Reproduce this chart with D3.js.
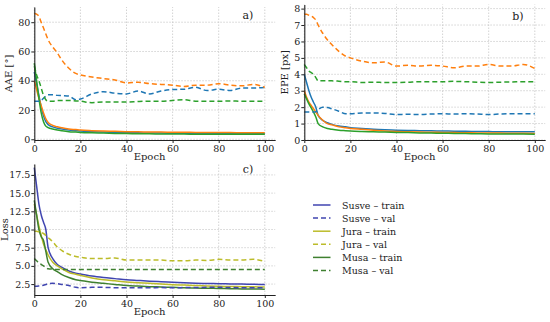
<!DOCTYPE html>
<html>
<head>
<meta charset="utf-8">
<script src="https://cdn.jsdelivr.net/npm/d3@7"></script>
<style>
  body { margin: 0; background: #fff; }
  svg text { font-family: "DejaVu Serif", "Liberation Serif", serif; fill: #222; }
  .grid line { stroke: #c8c8c8; stroke-dasharray: 1.5,1.5; stroke-width: 0.8; }
  .axis path, .axis line { stroke: #222; }
</style>
</head>
<body>
<svg id="chart" width="550" height="322"></svg>
<script>
const epochs = [0,1,2,3,4,5,6,8,10,12,15,18,20,25,30,35,40,45,50,55,60,65,70,75,80,85,90,95,100];

// a) AAE [°]
const susveTrainA = [46,38,30,22,16,12,10,8.5,7.5,7,6.3,5.9,5.6,5.2,4.9,4.7,4.5,4.4,4.3,4.2,4.1,4.05,4.0,3.95,3.9,3.85,3.8,3.8,3.8];
const juraTrainA  = [40,34,28,23,18,14,11.5,9.5,8.5,7.8,7,6.6,6.3,5.9,5.6,5.4,5.2,5.1,5.0,4.9,4.8,4.75,4.7,4.65,4.6,4.55,4.5,4.5,4.5];
const musaTrainA  = [52,40,28,18,12,9,8,7,6.3,5.8,5.2,4.9,4.7,4.4,4.2,4.0,3.9,3.8,3.7,3.65,3.6,3.55,3.5,3.5,3.5,3.45,3.4,3.4,3.4];
const susveValA   = [26,26,26,26.5,28,29.5,30.5,30.5,30,29.8,29.5,27,27.5,31,32.5,31.5,31,33,31,33,34,34.2,35.5,33.3,34.2,33.3,35,35,35.5];
const juraValA    = [86,85.5,84,80,76,72,68,63,59,54,48.5,45,44,42.5,41.5,40.5,38.5,39,38,37.5,37,36,37,37,38,37,36.5,37.5,35.5];
const musaValA    = [50,44,40,35,30,27,26,26,26.5,26.5,26.5,26.2,26,25,25.5,25.5,25.5,25.8,26,26,26.5,27,26,26,26,26.2,26,26,26];

// b) EPE [px]
const susveTrainB = [4.0,3.5,3.0,2.6,2.3,2.0,1.5,1.2,1.05,0.95,0.85,0.8,0.75,0.7,0.65,0.62,0.6,0.58,0.57,0.56,0.55,0.54,0.53,0.52,0.51,0.5,0.5,0.5,0.5];
const juraTrainB  = [3.0,2.6,2.3,2.1,1.9,1.7,1.5,1.2,1.0,0.92,0.8,0.74,0.7,0.65,0.6,0.55,0.52,0.5,0.48,0.47,0.46,0.45,0.44,0.43,0.42,0.42,0.41,0.41,0.4];
const musaTrainB  = [2.8,2.5,2.2,1.95,1.7,1.4,1.0,0.8,0.7,0.65,0.6,0.57,0.55,0.52,0.5,0.48,0.46,0.45,0.43,0.42,0.41,0.4,0.39,0.38,0.37,0.37,0.36,0.36,0.35];
const susveValB   = [1.7,1.7,1.7,1.7,1.7,1.72,1.85,2.0,1.98,1.9,1.75,1.6,1.6,1.65,1.65,1.62,1.55,1.57,1.55,1.58,1.6,1.58,1.6,1.58,1.55,1.58,1.6,1.6,1.6];
const juraValB    = [7.65,7.65,7.6,7.55,7.45,7.3,7.0,6.5,6.1,5.8,5.4,5.1,5.0,4.8,4.7,4.75,4.5,4.55,4.5,4.55,4.5,4.4,4.5,4.5,4.6,4.5,4.5,4.6,4.35];
const musaValB    = [4.6,4.4,4.2,4.1,4.0,3.8,3.6,3.6,3.6,3.6,3.58,3.55,3.55,3.5,3.52,3.5,3.5,3.52,3.55,3.55,3.55,3.57,3.55,3.52,3.5,3.52,3.53,3.55,3.55];

// c) Loss
const susveTrainC = [18.5,16,13.5,12,11,10,7.5,6,5.2,4.8,4.3,4.0,3.9,3.6,3.4,3.25,3.1,3.0,2.9,2.82,2.75,2.68,2.62,2.58,2.55,2.52,2.5,2.47,2.45];
const juraTrainC  = [13.5,12,10.5,9.2,8,7.2,6.5,5.5,5.0,4.6,4.1,3.85,3.7,3.35,3.1,2.95,2.8,2.7,2.6,2.5,2.42,2.36,2.3,2.25,2.2,2.17,2.14,2.12,2.1];
const musaTrainC  = [14,12,10,9,8.5,7,5.5,4.6,4.2,3.8,3.4,3.1,3.0,2.75,2.6,2.45,2.3,2.22,2.15,2.1,2.05,2.0,1.96,1.93,1.9,1.87,1.84,1.82,1.8];
const susveValC   = [2.2,2.2,2.25,2.3,2.35,2.45,2.55,2.6,2.55,2.45,2.3,2.05,2.0,2.05,2.05,2.0,2.0,2.0,2.0,2.02,2.0,2.02,2.03,2.05,2.05,2.03,2.0,2.0,2.0];
const juraValC    = [9.8,9.75,9.7,9.6,9.45,9.2,8.9,8.3,7.6,7.1,6.6,6.3,6.2,6.0,6.0,6.1,5.8,5.8,5.8,5.8,5.7,5.7,5.8,5.75,5.9,5.8,5.8,5.9,5.6];
const musaValC    = [6.0,5.7,5.4,5.2,5.0,4.8,4.6,4.55,4.5,4.5,4.5,4.5,4.5,4.5,4.5,4.5,4.5,4.5,4.5,4.5,4.5,4.5,4.5,4.5,4.5,4.5,4.5,4.5,4.5];

const xTicks = [0,20,40,60,80,100];
const yTicksA = [0,20,40,60,80];
const yTicksB = [0,1,2,3,4,5,6,7,8];
const yTicksC = [2.5,5.0,7.5,10.0,12.5,15.0,17.5];
const legendLabels = ["Susve \u2013 train","Susve \u2013 val","Jura \u2013 train","Jura \u2013 val","Musa \u2013 train","Musa \u2013 val"];

const tabColors = ["#1f77b4","#ff7f0e","#2ca02c"];
const lossColors = ["#4045b0","#bcbc2a","#3f8030"];
const dash = "5,3";

const svg = d3.select("#chart");

function panel(opts) {
  const x = d3.scaleLinear().domain([0, 104.5]).range([opts.left, opts.left + 104.5 * 2.305]);
  const y = d3.scaleLinear().domain(opts.yDomain).range([opts.bottom, opts.top]);
  const g = svg.append("g");

  // grid
  const grid = g.append("g").attr("class", "grid");
  grid.selectAll("line.v").data(xTicks).join("line").attr("class", "v")
    .attr("x1", d => x(d)).attr("x2", d => x(d))
    .attr("y1", opts.bottom).attr("y2", opts.top);
  grid.selectAll("line.h").data(opts.yTicks).join("line").attr("class", "h")
    .attr("x1", x.range()[0]).attr("x2", x.range()[1])
    .attr("y1", d => y(d)).attr("y2", d => y(d));

  // lines
  const line = d3.line().x((d, i) => x(epochs[i])).y(d => y(d)).curve(d3.curveMonotoneX);
  opts.series.forEach(s => {
    g.append("path").datum(s.values)
      .attr("fill", "none")
      .attr("stroke", s.color)
      .attr("stroke-width", 1.5)
      .attr("stroke-dasharray", s.dashed ? dash : null)
      .attr("d", line);
  });

  // axes
  const xAxis = g.append("g").attr("class", "axis")
    .attr("transform", `translate(0,${opts.bottom})`)
    .call(d3.axisBottom(x).tickValues(xTicks).tickSize(3).tickSizeOuter(0));
  const yAxis = g.append("g").attr("class", "axis")
    .attr("transform", `translate(${opts.left},0)`)
    .call(d3.axisLeft(y).tickValues(opts.yTicks).tickSize(3).tickSizeOuter(0)
      .tickFormat(opts.yFormat));
  [xAxis, yAxis].forEach(a => {
    a.select(".domain").attr("stroke-width", 1.1);
    a.selectAll("text").style("font-size", "9.5px").style("font-family", "'DejaVu Serif', serif");
  });
  yAxis.selectAll("text").attr("x", -4);
  xAxis.selectAll("text").attr("y", 5);

  // labels
  g.append("text").attr("x", (opts.left + x(100)) / 2).attr("y", opts.bottom + 20)
    .attr("text-anchor", "middle").style("font-size", "10px").text("Epoch");
  g.append("text")
    .attr("transform", `translate(${opts.yLabelX},${(opts.top + opts.bottom) / 2}) rotate(-90)`)
    .attr("text-anchor", "middle").style("font-size", "10px").text(opts.yLabel);
  g.append("text").attr("x", opts.tagX).attr("y", opts.tagY)
    .attr("text-anchor", "middle").style("font-size", "11px").text(opts.tag);
}

panel({
  left: 34.3, top: 7, bottom: 140, yDomain: [-0.5, 90.4], yTicks: yTicksA,
  yFormat: d3.format("d"), yLabel: "AAE [\u00b0]", yLabelX: 12, tag: "a)", tagX: 248, tagY: 19,
  series: [
    { values: susveTrainA, color: tabColors[0] },
    { values: juraTrainA, color: tabColors[1] },
    { values: musaTrainA, color: tabColors[2] },
    { values: susveValA, color: tabColors[0], dashed: true },
    { values: juraValA, color: tabColors[1], dashed: true },
    { values: musaValA, color: tabColors[2], dashed: true }
  ]
});

panel({
  left: 304.3, top: 4.5, bottom: 140, yDomain: [0, 8.25], yTicks: yTicksB,
  yFormat: d3.format("d"), yLabel: "EPE [px]", yLabelX: 288, tag: "b)", tagX: 518, tagY: 20,
  series: [
    { values: susveTrainB, color: tabColors[0] },
    { values: juraTrainB, color: tabColors[1] },
    { values: musaTrainB, color: tabColors[2] },
    { values: susveValB, color: tabColors[0], dashed: true },
    { values: juraValB, color: tabColors[1], dashed: true },
    { values: musaValB, color: tabColors[2], dashed: true }
  ]
});

panel({
  left: 34.3, top: 164, bottom: 295, yDomain: [1.0, 19.0], yTicks: yTicksC,
  yFormat: d3.format(".1f"), yLabel: "Loss", yLabelX: 8, tag: "c)", tagX: 248, tagY: 173,
  series: [
    { values: susveTrainC, color: lossColors[0] },
    { values: juraTrainC, color: lossColors[1] },
    { values: musaTrainC, color: lossColors[2] },
    { values: susveValC, color: lossColors[0], dashed: true },
    { values: juraValC, color: lossColors[1], dashed: true },
    { values: musaValC, color: lossColors[2], dashed: true }
  ]
});

// legend
const legend = svg.append("g").attr("transform", "translate(313,205)");
const rows = legend.selectAll("g").data(legendLabels).join("g")
  .attr("transform", (d, i) => `translate(0,${i * 13.1})`);
rows.append("line").attr("x1", 0).attr("x2", 17.5).attr("y1", 0).attr("y2", 0)
  .attr("stroke", (d, i) => lossColors[Math.floor(i / 2)])
  .attr("stroke-width", 1.5)
  .attr("stroke-dasharray", (d, i) => i % 2 ? dash : null);
rows.append("text").attr("x", 29).attr("y", 3.5).style("font-size", "9.5px").text(d => d);
</script>
</body>
</html>
